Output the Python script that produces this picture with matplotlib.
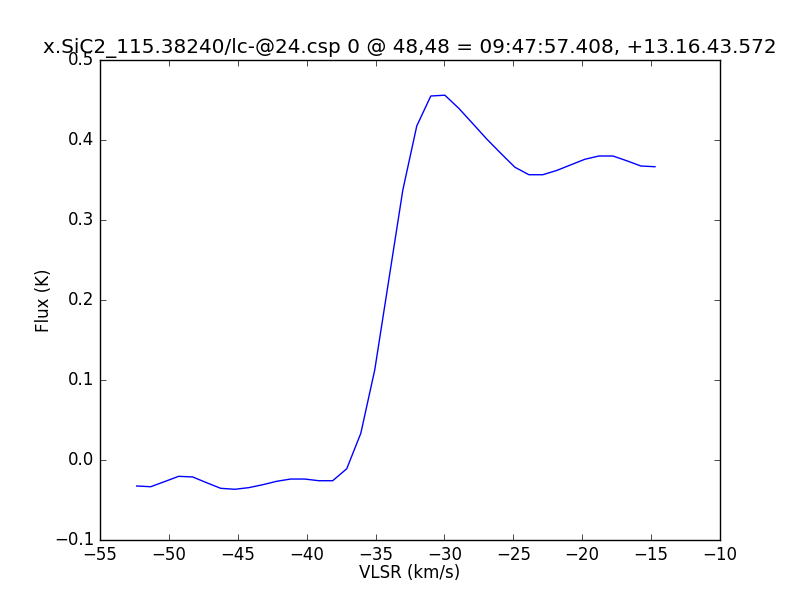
import matplotlib
matplotlib.use("Agg")
import matplotlib.pyplot as plt

# Spectrum
vlsr = [-52.34, -51.32, -50.31, -49.29, -48.27, -47.26, -46.24, -45.22,
        -44.21, -43.19, -42.17, -41.16, -40.14, -39.12, -38.11, -37.09,
        -36.07, -35.06, -34.04, -33.02, -32.01, -30.99, -29.97, -28.96,
        -27.94, -26.92, -25.91, -24.89, -23.87, -22.86, -21.84, -20.82,
        -19.81, -18.79, -17.77, -16.76, -15.74, -14.72]
flux = [-0.0325, -0.0334, -0.0270, -0.0204, -0.0212, -0.0284, -0.0354, -0.0366,
        -0.0346, -0.0309, -0.0266, -0.0238, -0.0238, -0.0259, -0.0259, -0.0109,
        0.0334, 0.1125, 0.2250, 0.3375, 0.4175, 0.4550, 0.4560, 0.4396,
        0.4204, 0.4010, 0.3834, 0.3660, 0.3566, 0.3566, 0.3620, 0.3690,
        0.3759, 0.3800, 0.3800, 0.3740, 0.3675, 0.3666]

title = "x.SiC2_115.38240/lc-@24.csp 0 @ 48,48 = 09:47:57.408, +13.16.43.572"

plt.style.use("classic")
fig = plt.figure(figsize=(8, 6), dpi=100, facecolor="white")
ax = fig.add_subplot(111)
ax.plot(vlsr, flux, color="b", linewidth=1.0)
ax.set_xlim(-55, -10)
ax.set_ylim(-0.1, 0.5)
ax.set_xlabel("VLSR (km/s)", labelpad=0)
ax.set_ylabel("Flux (K)", labelpad=1)
ax.set_title(title)

fig.savefig("out.png", dpi=100, facecolor="white")
